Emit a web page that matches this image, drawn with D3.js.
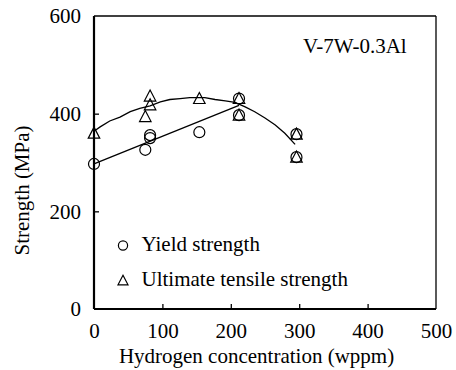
<!DOCTYPE html>
<html>
<head>
<meta charset="utf-8">
<script src="https://cdn.jsdelivr.net/npm/d3@7"></script>
<style>
  html, body { margin: 0; padding: 0; background: #fff; }
  svg { display: block; }
  svg text { font-family: "Liberation Serif", "Times New Roman", Times, Tinos, "DejaVu Serif", serif !important; fill: #000; }
</style>
</head>
<body>
<svg id="chart" width="456" height="370"></svg>
<script>
// ---- data ----
const xTicks = [0, 100, 200, 300, 400, 500];
const yTicks = [0, 200, 400, 600];

const yieldH = [0, 75, 82, 82, 154, 212, 212, 296, 296];
const yieldS = [297, 326, 356, 350, 362, 431, 397, 358, 311];

const utsH = [0, 75, 82, 82, 154, 212, 212, 296, 296];
const utsS = [360, 394, 436, 418, 431, 431, 397, 358, 311];

const yieldFitH = [0, 212];
const yieldFitS = [297, 417];

const utsFitH = [0, 9, 23, 38, 53, 67, 82, 97, 111, 126, 140, 162, 177, 192, 206, 221, 235, 250, 265, 279, 294];
const utsFitS = [364, 373, 385, 393, 404, 411, 416, 424, 429, 431, 433, 433, 429, 426, 423, 414, 404, 391, 377, 360, 337];

const alloyLabel = "V-7W-0.3Al";
const legendLabels = ["Yield strength", "Ultimate tensile strength"];
const xTitle = "Hydrogen concentration (wppm)";
const yTitle = "Strength (MPa)";

// ---- layout ----
const L = 94, R = 436, T = 16, B = 309;
const fs = 21;
const svg = d3.select("#chart");

const x = d3.scaleLinear().domain([0, 500]).range([L, R]);
const y = d3.scaleLinear().domain([0, 600]).range([B, T]);

// frame: top/right thin
svg.append("line").attr("x1", L).attr("x2", R).attr("y1", T).attr("y2", T)
  .attr("stroke", "#000").attr("stroke-width", 1.3);
svg.append("line").attr("x1", R).attr("x2", R).attr("y1", T).attr("y2", B)
  .attr("stroke", "#000").attr("stroke-width", 1.3);

// axes
const xAxis = d3.axisBottom(x).tickValues(xTicks).tickSize(-5).tickPadding(14).tickFormat(d3.format("d"));
const gx = svg.append("g").attr("transform", `translate(0,${B})`).call(xAxis);
const yAxis = d3.axisLeft(y).tickValues(yTicks).tickSize(-5).tickPadding(13).tickFormat(d3.format("d"));
const gy = svg.append("g").attr("transform", `translate(${L},0)`).call(yAxis);

[gx, gy].forEach(g => {
  g.attr("font-family", null).attr("font-size", null);
  g.select(".domain").attr("stroke", "#000").attr("stroke-width", 2.2);
  g.selectAll(".tick line").attr("stroke", "#000").attr("stroke-width", 1.3);
  g.selectAll(".tick text").attr("font-size", fs).attr("fill", "#000");
});
gx.select(".domain").attr("d", `M${L},0H${R}`);
gy.select(".domain").attr("d", `M0,${B}V${T}`);
gx.selectAll(".tick line").filter(d => d === 0 || d === 500).remove();
gy.selectAll(".tick line").filter(d => d === 0 || d === 600).remove();
gx.selectAll(".tick text").attr("dy", "0.71em");

// fitted lines
const line = d3.line().x(d => x(d[0])).y(d => y(d[1]));
svg.append("path").datum(yieldFitH.map((h, i) => [h, yieldFitS[i]]))
  .attr("d", line).attr("fill", "none").attr("stroke", "#000").attr("stroke-width", 1.3);
svg.append("path").datum(utsFitH.map((h, i) => [h, utsFitS[i]]))
  .attr("d", line).attr("fill", "none").attr("stroke", "#000").attr("stroke-width", 1.3);

// markers
function tri(cx, cy, w, h) {
  return `M${cx},${cy - h * 0.55}L${cx + w / 2},${cy + h * 0.45}L${cx - w / 2},${cy + h * 0.45}Z`;
}
svg.append("g").selectAll("circle").data(yieldH.map((h, i) => [h, yieldS[i]])).join("circle")
  .attr("cx", d => x(d[0])).attr("cy", d => y(d[1])).attr("r", 5.5)
  .attr("fill", "none").attr("stroke", "#000").attr("stroke-width", 1.2);
svg.append("g").selectAll("path").data(utsH.map((h, i) => [h, utsS[i]])).join("path")
  .attr("d", d => tri(x(d[0]), y(d[1]), 11.5, 11))
  .attr("fill", "none").attr("stroke", "#000").attr("stroke-width", 1.2);

// alloy label
svg.append("text").attr("x", 303).attr("y", 53).attr("font-size", fs).text(alloyLabel);

// legend
svg.append("circle").attr("cx", 123).attr("cy", 245.5).attr("r", 4.6)
  .attr("fill", "none").attr("stroke", "#000").attr("stroke-width", 1.2);
svg.append("text").attr("x", 141.5).attr("y", 251).attr("font-size", fs).text(legendLabels[0]);
svg.append("path").attr("d", tri(123, 280.5, 10, 9.5))
  .attr("fill", "none").attr("stroke", "#000").attr("stroke-width", 1.2);
svg.append("text").attr("x", 141.5).attr("y", 286).attr("font-size", fs).text(legendLabels[1]);

// axis titles
svg.append("text").attr("x", 256.5).attr("y", 363).attr("text-anchor", "middle")
  .attr("font-size", fs).text(xTitle);
svg.append("text").attr("transform", `translate(28.5,${190.5}) rotate(-90)`)
  .attr("text-anchor", "middle").attr("font-size", fs).text(yTitle);
</script>
</body>
</html>
